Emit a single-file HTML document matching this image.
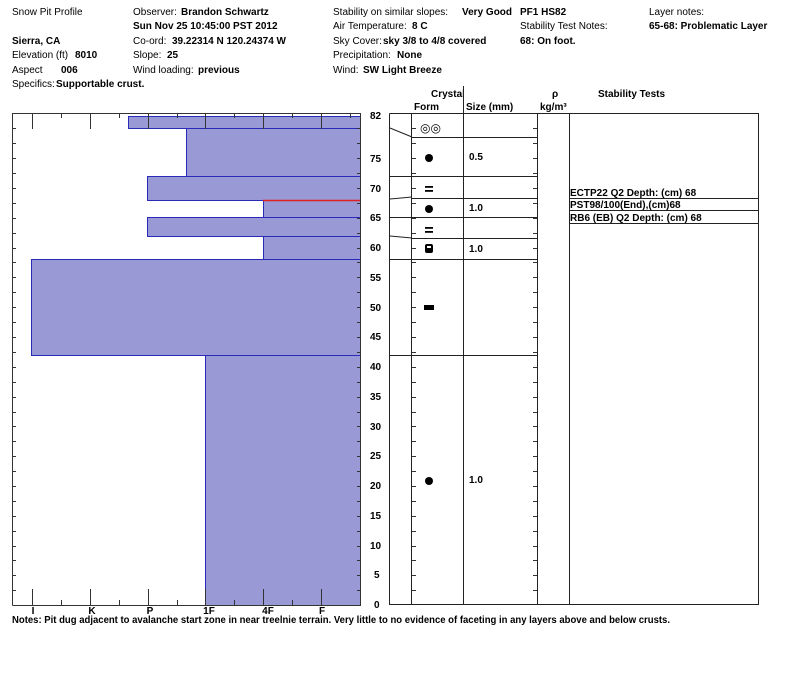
<!DOCTYPE html>
<html><head><meta charset="utf-8"><style>
body{margin:0;background:#fff;}
svg{display:block;font-family:"Liberation Sans",Arial,sans-serif;}
.n{font-size:10px;fill:#000}
.b{font-size:10px;font-weight:bold;fill:#000}
</style></head><body>
<svg width="800" height="676" viewBox="0 0 800 676" xmlns="http://www.w3.org/2000/svg">
<text x="12" y="15" class="n">Snow Pit Profile</text>
<text x="12" y="44" class="b">Sierra, CA</text>
<text x="12" y="58" class="n">Elevation (ft)</text><text x="75" y="58" class="b">8010</text>
<text x="12" y="73" class="n">Aspect</text><text x="61" y="73" class="b">006</text>
<text x="12" y="87" class="n">Specifics:</text><text x="56" y="87" class="b">Supportable crust.</text>
<text x="133" y="15" class="n">Observer:</text><text x="181" y="15" class="b">Brandon Schwartz</text>
<text x="133" y="29" class="b">Sun Nov 25 10:45:00 PST 2012</text>
<text x="133" y="44" class="n">Co-ord:</text><text x="172" y="44" class="b">39.22314 N 120.24374 W</text>
<text x="133" y="58" class="n">Slope:</text><text x="167" y="58" class="b">25</text>
<text x="133" y="73" class="n">Wind loading:</text><text x="198" y="73" class="b">previous</text>
<text x="333" y="15" class="n">Stability on similar slopes:</text><text x="462" y="15" class="b">Very Good</text>
<text x="333" y="29" class="n">Air Temperature:</text><text x="412" y="29" class="b">8 C</text>
<text x="333" y="44" class="n">Sky Cover:</text><text x="383" y="44" class="b">sky 3/8 to 4/8 covered</text>
<text x="333" y="58" class="n">Precipitation:</text><text x="397" y="58" class="b">None</text>
<text x="333" y="73" class="n">Wind:</text><text x="363" y="73" class="b">SW Light Breeze</text>
<text x="520" y="15" class="b">PF1 HS82</text>
<text x="520" y="29" class="n">Stability Test Notes:</text>
<text x="520" y="44" class="b">68: On foot.</text>
<text x="649" y="15" class="n">Layer notes:</text>
<text x="649" y="29" class="b">65-68: Problematic Layer</text>
<g fill="#9999d6" stroke="#2a2ab8" stroke-width="1">
<rect x="128.5" y="116.5" width="232" height="12"/>
<rect x="186.5" y="128.5" width="174" height="48"/>
<rect x="147.5" y="176.5" width="213" height="24"/>
<rect x="263.5" y="200.5" width="97" height="17"/>
<rect x="147.5" y="217.5" width="213" height="19"/>
<rect x="263.5" y="236.5" width="97" height="23"/>
<rect x="31.5" y="259.5" width="329" height="96"/>
<rect x="205.5" y="355.5" width="155" height="250"/>
</g>
<line x1="263" y1="200.5" x2="360" y2="200.5" stroke="#dd2222" stroke-width="1.5"/>
<g stroke="#333" stroke-width="1" fill="none">
<path d="M12.5 605.5V113.5H360.5V605.5H12.5"/>
<path d="M32.5 113v16M90.5 113v16M148.5 113v16M205.5 113v16M263.5 113v16M321.5 113v16M61.5 113v5M119.5 113v5M177.5 113v5M234.5 113v5M292.5 113v5M350.5 113v5"/>
<path d="M32.5 605v-16M90.5 605v-16M148.5 605v-16M205.5 605v-16M263.5 605v-16M321.5 605v-16M61.5 605v-5M119.5 605v-5M177.5 605v-5M234.5 605v-5M292.5 605v-5"/>
</g>
<g id="lt" stroke="#333" stroke-width="1">
<path d="M12 128.5h4M12 143.5h4M12 158.5h4M12 173.5h4M12 188.5h4M12 203.5h4M12 218.5h4M12 233.5h4M12 248.5h4M12 262.5h4M12 277.5h4M12 292.5h4M12 307.5h4M12 322.5h4M12 337.5h4M12 352.5h4M12 367.5h4M12 382.5h4M12 397.5h4M12 412.5h4M12 426.5h4M12 441.5h4M12 456.5h4M12 471.5h4M12 486.5h4M12 501.5h4M12 516.5h4M12 531.5h4M12 546.5h4M12 560.5h4M12 575.5h4M12 590.5h4"/>
</g>
<use href="#lt" x="345"/>
<g text-anchor="middle">
<text x="33" y="614" class="b">I</text><text x="92" y="614" class="b">K</text><text x="150" y="614" class="b">P</text>
<text x="209" y="614" class="b">1F</text><text x="268" y="614" class="b">4F</text><text x="322" y="614" class="b">F</text>
</g>
<text x="12" y="623" class="b" textLength="658" lengthAdjust="spacingAndGlyphs">Notes:  Pit dug adjacent to avalanche start zone in near treelnie terrain. Very little to no evidence of faceting in any layers above and below crusts.</text>
<g>
<text x="370" y="119" class="b">82</text>
<text x="370" y="162" class="b">75</text><text x="370" y="192" class="b">70</text><text x="370" y="221" class="b">65</text>
<text x="370" y="251" class="b">60</text><text x="370" y="281" class="b">55</text><text x="370" y="311" class="b">50</text>
<text x="370" y="340" class="b">45</text><text x="370" y="370" class="b">40</text><text x="370" y="400" class="b">35</text>
<text x="370" y="430" class="b">30</text><text x="370" y="459" class="b">25</text><text x="370" y="489" class="b">20</text>
<text x="370" y="519" class="b">15</text><text x="370" y="549" class="b">10</text><text x="374" y="578" class="b">5</text>
<text x="374" y="608" class="b">0</text>
</g>
<text x="431" y="97" class="b">Crystal</text>
<text x="414" y="110" class="b">Form</text><text x="466" y="110" class="b">Size (mm)</text>
<text x="552" y="97" class="b">ρ</text><text x="540" y="110" class="b">kg/m³</text>
<text x="598" y="97" class="b">Stability Tests</text>
<rect x="464" y="86" width="10" height="14" fill="#fff"/>
<g stroke="#222" stroke-width="1" fill="none">
<path d="M389.5 113.5V604.5H758.5V113.5H389.5"/>
<path d="M411.5 113v491M463.5 86v518M537.5 113v491M569.5 113v491"/>
<path d="M412 137.5h125M412 176.5h125M412 198.5h125M412 217.5h125M412 238.5h125M390 259.5h147M390 355.5h147M390 176.5h22M390 217.5h22"/>
<path d="M390 128l22 9M390 199l22-2M390 236l22 2"/>
<path d="M569 198.5h189M569 210.5h189M569 223.5h189"/>
</g>
<use href="#lt" x="400"/>
<use href="#lt" x="521"/>
<text x="420" y="132" font-size="12" fill="#000">◎◎</text>
<circle cx="429" cy="158" r="4" fill="#000"/>
<rect x="425" y="186" width="8" height="1.8" fill="#000"/><rect x="425" y="190" width="8" height="1.8" fill="#000"/>
<circle cx="429" cy="209" r="4" fill="#000"/>
<rect x="425" y="227" width="8" height="1.8" fill="#000"/><rect x="425" y="231" width="8" height="1.8" fill="#000"/>
<rect x="425" y="244" width="8" height="9" rx="2" fill="#000"/><rect x="427" y="246" width="4" height="2" fill="#fff"/>
<rect x="424" y="305" width="10" height="5" fill="#000"/>
<circle cx="429" cy="481" r="4" fill="#000"/>
<text x="469" y="160" class="b">0.5</text>
<text x="469" y="211" class="b">1.0</text>
<text x="469" y="252" class="b">1.0</text>
<text x="469" y="483" class="b">1.0</text>
<text x="570" y="196" class="b" font-size="9.5">ECTP22 Q2 Depth: (cm) 68</text>
<text x="570" y="208" class="b" font-size="9.5">PST98/100(End),(cm)68</text>
<text x="570" y="221" class="b" font-size="9.5">RB6 (EB) Q2 Depth: (cm) 68</text>
</svg>
</body></html>
